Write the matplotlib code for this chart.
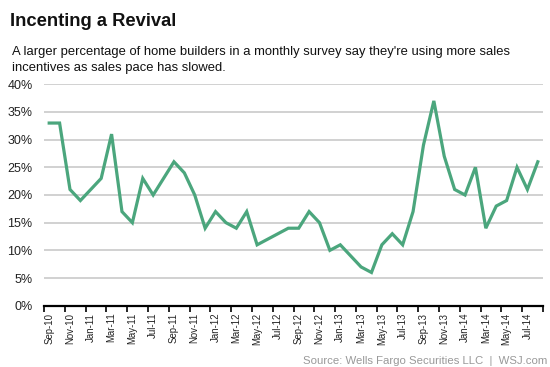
import matplotlib
matplotlib.use("Agg")
import matplotlib.pyplot as plt
from matplotlib.ticker import FixedLocator, FixedFormatter, NullFormatter

plt.rcParams['font.family'] = ['Liberation Sans', 'DejaVu Sans']

months = ["Sep-10", "Oct-10", "Nov-10", "Dec-10", "Jan-11", "Feb-11", "Mar-11", "Apr-11",
          "May-11", "Jun-11", "Jul-11", "Aug-11", "Sep-11", "Oct-11", "Nov-11", "Dec-11",
          "Jan-12", "Feb-12", "Mar-12", "Apr-12", "May-12", "Jun-12", "Jul-12", "Aug-12",
          "Sep-12", "Oct-12", "Nov-12", "Dec-12", "Jan-13", "Feb-13", "Mar-13", "Apr-13",
          "May-13", "Jun-13", "Jul-13", "Aug-13", "Sep-13", "Oct-13", "Nov-13", "Dec-13",
          "Jan-14", "Feb-14", "Mar-14", "Apr-14", "May-14", "Jun-14", "Jul-14", "Aug-14"]
values = [33, 33, 21, 19, 21, 23, 31, 17,
          15, 23, 20, 23, 26, 24, 20, 14,
          17, 15, 14, 17, 11, 12, 13, 14,
          14, 17, 15, 10, 11, 9, 7, 6,
          11, 13, 11, 17, 29, 37, 27, 21,
          20, 25, 14, 18, 19, 25, 21, 26]
y_ticks = [0, 5, 10, 15, 20, 25, 30, 35, 40]
y_labels = ["0%", "5%", "10%", "15%", "20%", "25%", "30%", "35%", "40%"]

title = "Incenting a Revival"
subtitle_lines = ["A larger percentage of home builders in a monthly survey say they're using more sales",
                  "incentives as sales pace has slowed."]
source = "Source: Wells Fargo Securities LLC  |  WSJ.com"

W, H = 550, 367
fig = plt.figure(figsize=(W / 100, H / 100), dpi=100)
fig.patch.set_facecolor("white")

left, right, top, bottom = 44, 543, 84.3, 305.7
ax = fig.add_axes([left / W, 1 - bottom / H, (right - left) / W, (bottom - top) / H])

x = list(range(len(months)))
ax.plot(x, values, color="#4BA67D", lw=2.3, solid_joinstyle="miter", zorder=3, clip_on=False)

n = len(months)
ax.set_xlim(-0.5, n - 0.5)
ax.set_ylim(0, 40)

# y axis
ax.set_yticks(y_ticks)
ax.set_yticklabels(y_labels, fontsize=9.0, color="#222222")
ax.tick_params(axis="y", length=0, pad=8.3)
for yt in y_ticks[1:]:
    ax.axhline(yt, color="#c9c9c9", lw=1.2, zorder=1)

# x axis: ticks at category boundaries, labels at category centres
ax.xaxis.set_major_locator(FixedLocator([i - 0.5 for i in range(0, n + 1, 2)]))
ax.xaxis.set_major_formatter(NullFormatter())
ax.xaxis.set_minor_locator(FixedLocator(list(range(0, n, 2))))
ax.xaxis.set_minor_formatter(FixedFormatter(months[0::2]))
ax.tick_params(axis="x", which="major", length=4, width=1.2, color="black", direction="out")
ax.tick_params(axis="x", which="minor", length=0, pad=5, labelsize=6.9, labelrotation=90,
               labelcolor="#222222")

for s in ["top", "right", "left"]:
    ax.spines[s].set_visible(False)
ax.spines["bottom"].set_color("black")
ax.spines["bottom"].set_linewidth(1.6)
ax.spines["bottom"].set_zorder(4)

fig.text(10 / W, 1 - 25.7 / H, title, fontsize=13.2, fontweight="bold", color="#111111",
         ha="left", va="baseline")
for i, line in enumerate(subtitle_lines):
    fig.text(12 / W, 1 - (55 + 15.6 * i) / H, line, fontsize=9.4, color="#111111",
             ha="left", va="baseline")
fig.text(547 / W, 1 - 364 / H, source, fontsize=8.2, color="#999999", ha="right", va="baseline")

fig.savefig("out.png", dpi=100, facecolor="white")
